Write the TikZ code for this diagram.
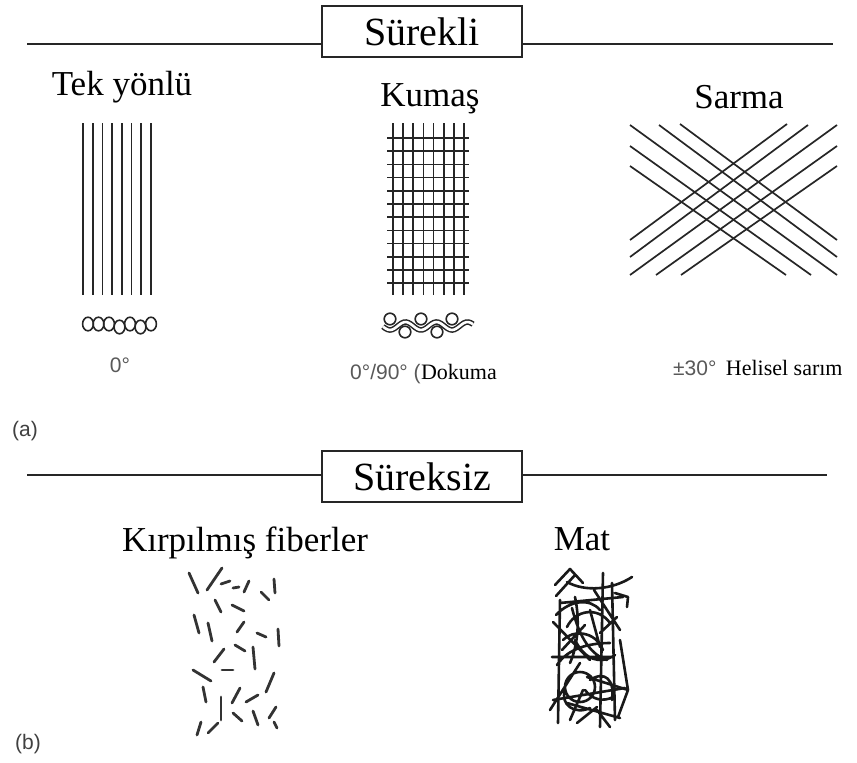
\documentclass[tikz,border=0pt]{standalone}
\usepackage{fontspec}
\setmainfont{Liberation Serif}
\setsansfont{Liberation Sans}
\usetikzlibrary{positioning}

\begin{document}
\begin{tikzpicture}[
    x=1pt, y=-1pt,
    every node/.style={inner sep=0pt},
    heading/.style={
        draw=black!85, line width=2.4pt,
        minimum width=200pt, minimum height=51pt,
        font=\fontsize{40}{44}\selectfont
    },
    kind/.style={anchor=base, font=\fontsize{35}{40}\selectfont},
    angle/.style={anchor=base west, font=\sffamily\fontsize{21}{24}\selectfont, text=black!65},
    note/.style={anchor=base west, font=\fontsize{22}{26}\selectfont},
    rule/.style={line width=2.6pt, black!85},
    yarn/.style={line width=1.7pt, black!85},
    chopped/.style={line width=2.8pt, black!80, line cap=round},
    matfib/.style={line width=2.6pt, black!90, line cap=round, line join=round}
]
\fill[white] (0,0) rectangle (857,763);
\useasboundingbox (0,0) rectangle (857,763);

% continuous fibres
\node[heading] (cont) at (422,31.5) {Sürekli};
\coordinate (contL) at (27,44);
\coordinate (contR) at (833,44);
\draw[rule] (contL) -- (contL -| cont.west);
\draw[rule] (cont.east |- contR) -- (contR);

\node[kind] (uni) at (122,95) {Tek yönlü};
\node[kind] (fab) at (430,106) {Kumaş};
\node[kind] (wind) at (739,108) {Sarma};

% unidirectional
\foreach \i in {0,...,7}
    \draw[yarn] ({83+9.7*\i},123) -- ++(0,172);
\foreach \cx/\cy in {88/324,98.5/324,109/324,119.5/327,130/324,140.5/327,151/324}
    \draw[yarn, line width=1.6pt] (\cx,\cy) ellipse[x radius=5.4, y radius=6.8];
\node[angle, anchor=base] (uniA) at (120,372) {0°};

% woven fabric
\foreach \i in {0,...,7}
    \draw[yarn] ({393+10.15*\i},123) -- ++(0,172);
\foreach \j in {0,...,11}
    \draw[yarn] (387,{138+13.2*\j}) -- ++(82,0);
\foreach \cx/\cy in {390/319,405/332,421/319,437/332,452/319}
    \draw[yarn, line width=1.6pt, fill=white] (\cx,\cy) circle[radius=5.8];
\draw[line width=1.5pt, black!85, double=white, double distance=2.6pt]
    plot[smooth, domain=383:473, samples=40] (\x,{326+4*cos(180*(\x-390)/15.5)});
\node[angle] (fabA) at (350,379) {0°/90° (};
\node[note] (fabB) at (fabA.base east) {Dokuma};

% filament winding
\foreach \xa/\ya/\xb/\yb in {630/240/787/124, 630/257/808/125, 630/275/837/125,
                             656/275/837/146, 681/275/837/166} {
    \draw[yarn] (\xa,\ya) -- (\xb,\yb);
    \draw[yarn] ({1467-\xa},\ya) -- ({1467-\xb},\yb);
}
\node[angle] (windA) at (673,375) {±30°};
\node[note, right=9pt of windA.base east, anchor=base west] (windB) {Helisel sarım};

\node[angle, text=black!75] (partA) at (12,436) {(a)};

% discontinuous fibres
\node[heading] (disc) at (422,476.5) {Süreksiz};
\coordinate (discL) at (27,475);
\coordinate (discR) at (827,475);
\draw[rule] (discL) -- (discL -| disc.west);
\draw[rule] (disc.east |- discR) -- (discR);

\node[kind] (chop) at (245,551) {Kırpılmış fiberler};
\node[kind] (mat) at (582,550) {Mat};

% chopped fibres
\foreach \xa/\ya/\xb/\yb in {189/573/198/593, 207/590/222/568, 221/584/230/581,
        233/588/239/587, 244/592/249/581, 261/592/269/600, 274/579/275/593,
        215/600/221/612, 232/605/244/611, 194/615/199/633, 208/623/212/641,
        237/632/244/622, 257/633/266/637, 278/629/279/646, 214/662/224/649,
        235/645/245/651, 253/647/255/669, 193/670/211/681, 222/670/233/670,
        203/687/206/702, 221/697/221/720, 232/703/240/688, 246/702/258/695,
        266/692/274/673, 233/713/242/721, 253/711/258/725, 269/718/276/707,
        274/722/277/728, 197/735/201/722, 208/733/218/723}
    \draw[chopped] (\xa,\ya) -- (\xb,\yb);

% random mat
\draw[matfib]
    (555,585) -- (570,569) -- (583,583)
    (567,582) .. controls (585,592) and (612,590) .. (632,577)
    (560,600) -- (558,723)
    (603,573) -- (600,727)
    (612,583) -- (615,720)
    (560,603) -- (623,597)
    (567,627) .. controls (575,610) and (598,606) .. (610,623)
    (572,608) .. controls (580,640) and (592,655) .. (607,660)
    (553,622) -- (590,660)
    (552,657) -- (613,657)
    (557,665) .. controls (568,648) and (590,643) .. (610,643)
    (580,687) circle[radius=15]
    (550,710) -- (580,663)
    (567,703) -- (620,718)
    (587,677) -- (628,690) -- (618,717)
    (575,597) .. controls (580,620) and (578,645) .. (570,663)
    (615,593) -- (628,597) -- (627,607)
    (577,723) -- (597,707)
    (597,710) -- (610,727)
    (585,690) .. controls (592,700) and (604,702) .. (613,697)
    (590,610) -- (600,647)
    (563,640) .. controls (572,630) and (595,630) .. (603,650)
    (600,633) -- (617,617)
    (556,615) .. controls (570,600) and (590,598) .. (600,610)
    (565,690) .. controls (560,705) and (575,715) .. (590,708)
    (590,680) .. controls (605,670) and (615,680) .. (612,700)
    (553,700) -- (625,688)
    (575,640) .. controls (585,660) and (600,665) .. (615,655)
    (562,650) -- (585,625)
    (594,590) -- (620,630)
    (570,720) -- (583,690)
    (620,640) -- (628,690)
    (556,596) -- (575,575);

\node[angle, text=black!75] (partB) at (15,749) {(b)};
\end{tikzpicture}
\end{document}
